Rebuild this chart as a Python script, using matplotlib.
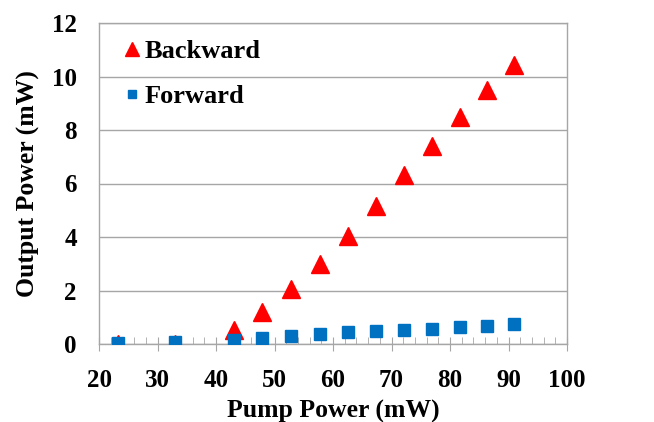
import matplotlib.pyplot as plt
from matplotlib.ticker import MultipleLocator

# datos
pump = [23.3, 33.0, 43.0, 47.8, 52.8, 57.7, 62.6, 67.4, 72.2, 77.0, 81.7, 86.4, 91.0]
backward = [0.0, 0.0, 0.52, 1.2, 2.05, 2.98, 4.04, 5.15, 6.3, 7.4, 8.48, 9.5, 10.43]
forward = [0.03, 0.08, 0.15, 0.24, 0.3, 0.37, 0.44, 0.47, 0.53, 0.57, 0.62, 0.68, 0.76]

plt.rcParams['font.family'] = ['Liberation Serif', 'DejaVu Serif']
plt.rcParams['font.weight'] = 'bold'

fig = plt.figure(figsize=(6.54, 4.22), dpi=100)
ax = fig.add_axes([99 / 654, 1 - 344 / 422, (567 - 99) / 654, (344 - 23) / 422])

ax.plot(pump, backward, linestyle='none', marker='^', markersize=12.5,
        color='#FF0000', label='Backward', zorder=3)
ax.plot(pump, forward, linestyle='none', marker='s', markersize=8,
        color='#0070C0', label='Forward', zorder=4)

ax.set_xlim(20, 100)
ax.set_ylim(0, 12)
ax.xaxis.set_major_locator(MultipleLocator(10))
ax.xaxis.set_minor_locator(MultipleLocator(2))
ax.yaxis.set_major_locator(MultipleLocator(2))

ax.grid(True, axis='y', color='#A6A6A6', linewidth=1)
ax.set_axisbelow(True)
for s in ax.spines.values():
    s.set_color('#A6A6A6')
    s.set_linewidth(1)

ax.tick_params(axis='x', which='major', direction='inout', length=10,
               color='#A6A6A6', labelsize=18, pad=13)
ax.tick_params(axis='x', which='minor', direction='in', length=5,
               color='#A6A6A6')
ax.tick_params(axis='y', which='both', length=0, labelsize=18, pad=16)

ax.set_xlabel('Pump Power (mW)', fontsize=18.5, fontweight='bold', va='center')
ax.set_ylabel('Output Power (mW)', fontsize=18.5, fontweight='bold', va='center')
ax.xaxis.set_label_coords(0.5, -0.209)
ax.yaxis.set_label_coords(-0.15, 0.5)

ax.legend(loc='upper left', bbox_to_anchor=(0.0545, 0.948), frameon=False,
          handletextpad=0.15, handlelength=0.6, borderaxespad=0, borderpad=0,
          labelspacing=0.82, markerscale=0.8,
          prop={'weight': 'bold', 'size': 19})

fig.savefig('out.png', dpi=100)
